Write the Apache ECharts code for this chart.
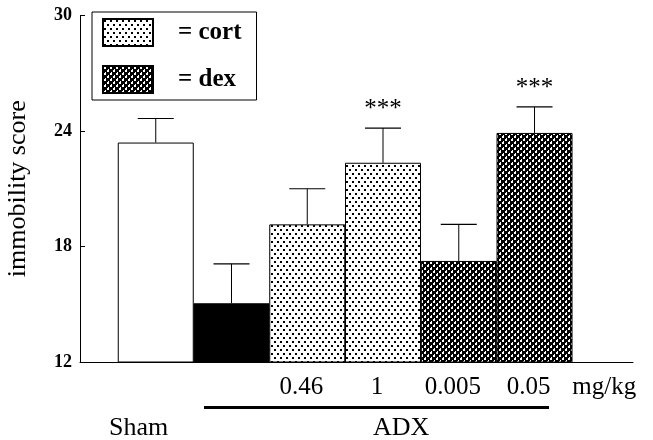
<!DOCTYPE html>
<html>
<head>
<meta charset="utf-8">
<script src="https://cdn.jsdelivr.net/npm/echarts@6/dist/echarts.min.js"></script>
<style>html,body{margin:0;padding:0;background:#fff}#c{width:653px;height:440px}</style>
</head>
<body>
<div id="c"></div>
<script>
// ---- data ----
var groups = ['Sham', 'ADX', 'cort 0.46', 'cort 1', 'dex 0.005', 'dex 0.05'];
var doseLabels = ['', '', '0.46', '1', '0.005', '0.05'];
var unitLabel = 'mg/kg';
var means = [23.4, 15.05, 19.15, 22.35, 17.25, 23.9];
var errTops = [24.65, 17.1, 21.0, 24.15, 19.15, 25.25];
var sig = ['', '', '', '***', '', '***'];
var treatment = ['sham', 'adx', 'cort', 'cort', 'dex', 'dex'];
var yTicks = [12, 18, 24, 30];
var yTitle = 'immobility score';
var legendNames = ['cort', 'dex'];
var groupLabels = ['Sham', 'ADX'];

// ---- patterns ----
function dotPattern() {
  var c = document.createElement('canvas'); c.width = 6; c.height = 8;
  var g = c.getContext('2d');
  g.fillStyle = '#fff'; g.fillRect(0, 0, 6, 8);
  g.fillStyle = '#000'; g.fillRect(1, 1, 2, 2); g.fillRect(4, 5, 2, 2);
  return c;
}
function hatchPattern() {
  var c = document.createElement('canvas'); c.width = 6; c.height = 6;
  var g = c.getContext('2d');
  g.fillStyle = '#000'; g.fillRect(0, 0, 6, 6);
  g.fillStyle = '#fff';
  g.fillRect(1, 1, 2, 2); g.fillRect(4, 4, 2, 2);
  g.fillRect(2, 0, 1, 1); g.fillRect(5, 3, 1, 1);
  return c;
}
var dotFill = { image: dotPattern(), repeat: 'repeat' };
var hatchFill = { image: hatchPattern(), repeat: 'repeat' };

function seriesData(kind) {
  var d = [];
  for (var i = 0; i < means.length; i++) if (treatment[i] === kind) d.push([i, means[i]]);
  return d;
}

var serif = 'Liberation Serif, Times New Roman, serif';
var barW = 76;
function barSeries(name, kind, fill) {
  return { name: name, type: 'bar', barWidth: barW, barGap: '-100%', data: seriesData(kind),
    itemStyle: { color: fill, borderColor: '#000', borderWidth: 1 } };
}

var chart = echarts.init(document.getElementById('c'), null, { renderer: 'canvas' });
var option = {
  animation: false,
  backgroundColor: '#fff',
  grid: { left: 80, right: 20, top: 15.5, bottom: 78, containLabel: false, outerBoundsMode: 'none' },
  legend: {
    data: legendNames,
    orient: 'vertical',
    left: 92, top: 12,
    padding: [6, 15, 6, 10],
    itemWidth: 50, itemHeight: 27, itemGap: 18,
    icon: 'rect',
    borderColor: '#000', borderWidth: 1,
    backgroundColor: '#fff',
    formatter: function (n) { return '= ' + n; },
    textStyle: { fontFamily: serif, fontWeight: 'bold', fontSize: 25, lineHeight: 27, color: '#000', padding: [0, 0, 0, 20] }
  },
  xAxis: {
    type: 'value', min: -1, max: 6.3, interval: 1,
    axisLine: { show: true, onZero: false, lineStyle: { color: '#000', width: 1 } },
    axisTick: { show: false },
    splitLine: { show: false },
    axisLabel: {
      showMinLabel: true, showMaxLabel: true,
      margin: 13,
      padding: [0, 12, 0, 0],
      fontFamily: serif, fontSize: 25, color: '#000',
      formatter: function (v) {
        var r = Math.round(v);
        if (Math.abs(v - r) > 1e-6) return '';
        if (r === doseLabels.length) return unitLabel;
        return (r >= 0 && r < doseLabels.length) ? doseLabels[r] : '';
      }
    }
  },
  yAxis: {
    type: 'value', min: yTicks[0], max: yTicks[yTicks.length - 1], interval: yTicks[1] - yTicks[0],
    name: yTitle, nameLocation: 'middle', nameRotate: 90, nameGap: 49,
    nameTextStyle: { fontFamily: serif, fontSize: 26, color: '#000' },
    axisLine: { show: true, onZero: false, lineStyle: { color: '#000', width: 1 } },
    axisTick: { show: true, inside: true, length: 5, lineStyle: { color: '#000' } },
    splitLine: { show: false },
    axisLabel: { fontFamily: serif, fontWeight: 'bold', fontSize: 18, color: '#000', margin: 8 }
  },
  series: [
    barSeries('Sham', 'sham', '#fff'),
    barSeries('ADX', 'adx', '#000'),
    barSeries('cort', 'cort', dotFill),
    barSeries('dex', 'dex', hatchFill),
    { name: 'err', type: 'custom', z: 5,
      data: means.map(function (m, i) { return [i, m, errTops[i]]; }),
      encode: { x: 0, y: [1, 2] },
      renderItem: function (params, api) {
        var i = params.dataIndex;
        var p1 = api.coord([api.value(0), api.value(1)]);
        var p2 = api.coord([api.value(0), api.value(2)]);
        var children = [
          { type: 'line', shape: { x1: p1[0], y1: p1[1], x2: p2[0], y2: p2[1] }, style: { stroke: '#000', lineWidth: 1 } },
          { type: 'line', shape: { x1: p2[0] - 18, y1: p2[1], x2: p2[0] + 18, y2: p2[1] }, style: { stroke: '#000', lineWidth: 1.2 } }
        ];
        if (sig[i]) {
          children.push({ type: 'text', style: { text: sig[i], x: p2[0], y: p2[1] - 19, align: 'center', verticalAlign: 'middle',
            font: '25px ' + serif, fill: '#000' } });
        }
        return { type: 'group', children: children };
      }
    }
  ],
  graphic: [
    { type: 'text', left: 109, top: 415, style: { text: groupLabels[0], font: '26px ' + serif, fill: '#000' } },
    { type: 'text', left: 373, top: 415, style: { text: groupLabels[1], font: '26px ' + serif, fill: '#000' } },
    { type: 'rect', shape: { x: 204, y: 406, width: 345, height: 3 }, style: { fill: '#000' } }
  ]
};
chart.setOption(option);
</script>
</body>
</html>
